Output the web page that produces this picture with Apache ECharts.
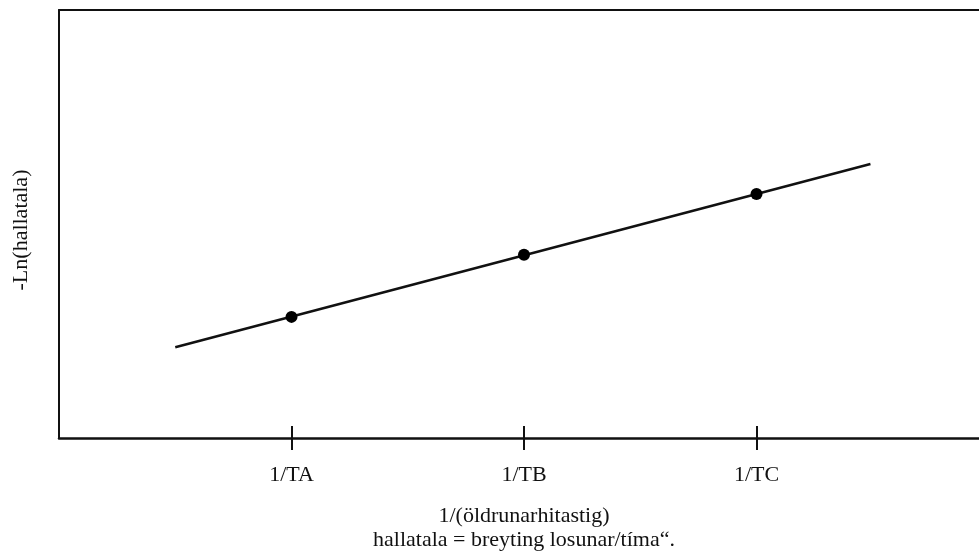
<!DOCTYPE html>
<html>
<head>
<meta charset="utf-8">
<script src="https://cdn.jsdelivr.net/npm/echarts@6/dist/echarts.min.js"></script>
<style>
html,body{margin:0;padding:0;background:#fff;}
#chart{width:979px;height:553px;}
</style>
</head>
<body>
<div id="chart"></div>
<script>
// Data
const tickLabels = ['1/TA', '1/TB', '1/TC'];
const tickX = [1, 2, 3];
const pointY = [2.83, 4.28, 5.70];
const fitLineX = [0.5, 3.49];
const fitLineY = [2.12, 6.40];
const xTitle = '1/(öldrunarhitastig)\nhallatala = breyting losunar/tíma“.';
const yTitle = '-Ln(hallatala)';

const FONT = '"Liberation Serif", "Times New Roman", serif';
const chart = echarts.init(document.getElementById('chart'));

const points = tickX.map((x, i) => [x, pointY[i]]);
const fit = fitLineX.map((x, i) => [x, fitLineY[i]]);

const X_MAX = 3.957; // right edge of the frame runs off the picture
const xBase = {
  type: 'value', min: 0, max: X_MAX, gridIndex: 0,
  splitLine: { show: false }
};

chart.setOption({
  animation: false,
  backgroundColor: '#fff',
  grid: { left: 59, top: 10, right: 0, height: 428, show: false },
  xAxis: [
    Object.assign({}, xBase, {
      position: 'bottom',
      axisLine: { show: true, lineStyle: { color: '#111', width: 2.5 } },
      axisTick: { show: true, inside: false, length: 12, customValues: tickX, lineStyle: { color: '#111', width: 2 } },
      axisLabel: {
        show: true, customValues: tickX, margin: 26,
        formatter: v => tickLabels[tickX.indexOf(v)] || '',
        color: '#111', fontFamily: FONT, fontSize: 22
      }
    }),
    Object.assign({}, xBase, {
      position: 'bottom',
      axisLine: { show: false },
      axisTick: { show: true, inside: true, length: 12, customValues: tickX, lineStyle: { color: '#111', width: 2 } },
      axisLabel: { show: false }
    }),
    Object.assign({}, xBase, {
      position: 'top',
      axisLine: { show: true, lineStyle: { color: '#111', width: 2 } },
      axisTick: { show: false },
      axisLabel: { show: false }
    })
  ],
  yAxis: {
    type: 'value', min: 0, max: 10,
    axisLine: { show: true, lineStyle: { color: '#111', width: 2 } },
    axisTick: { show: false }, axisLabel: { show: false },
    splitLine: { show: false }
  },
  graphic: [
    {
      type: 'text', x: 524, y: 504,
      style: {
        text: xTitle, font: '22px ' + FONT, fill: '#111',
        textAlign: 'center', textVerticalAlign: 'top', lineHeight: 24
      }
    },
    {
      type: 'text', x: 21, y: 230, rotation: Math.PI / 2,
      style: {
        text: yTitle, font: '22px ' + FONT, fill: '#111',
        textAlign: 'center', textVerticalAlign: 'middle'
      }
    }
  ],
  series: [
    {
      type: 'line', xAxisIndex: 0, data: fit, showSymbol: false, symbol: 'none',
      lineStyle: { color: '#111', width: 2.5 }, silent: true, z: 2
    },
    {
      type: 'scatter', xAxisIndex: 0, data: points, symbol: 'circle', symbolSize: 12,
      itemStyle: { color: '#000', opacity: 1 }, silent: true, z: 3
    }
  ]
});
</script>
</body>
</html>
